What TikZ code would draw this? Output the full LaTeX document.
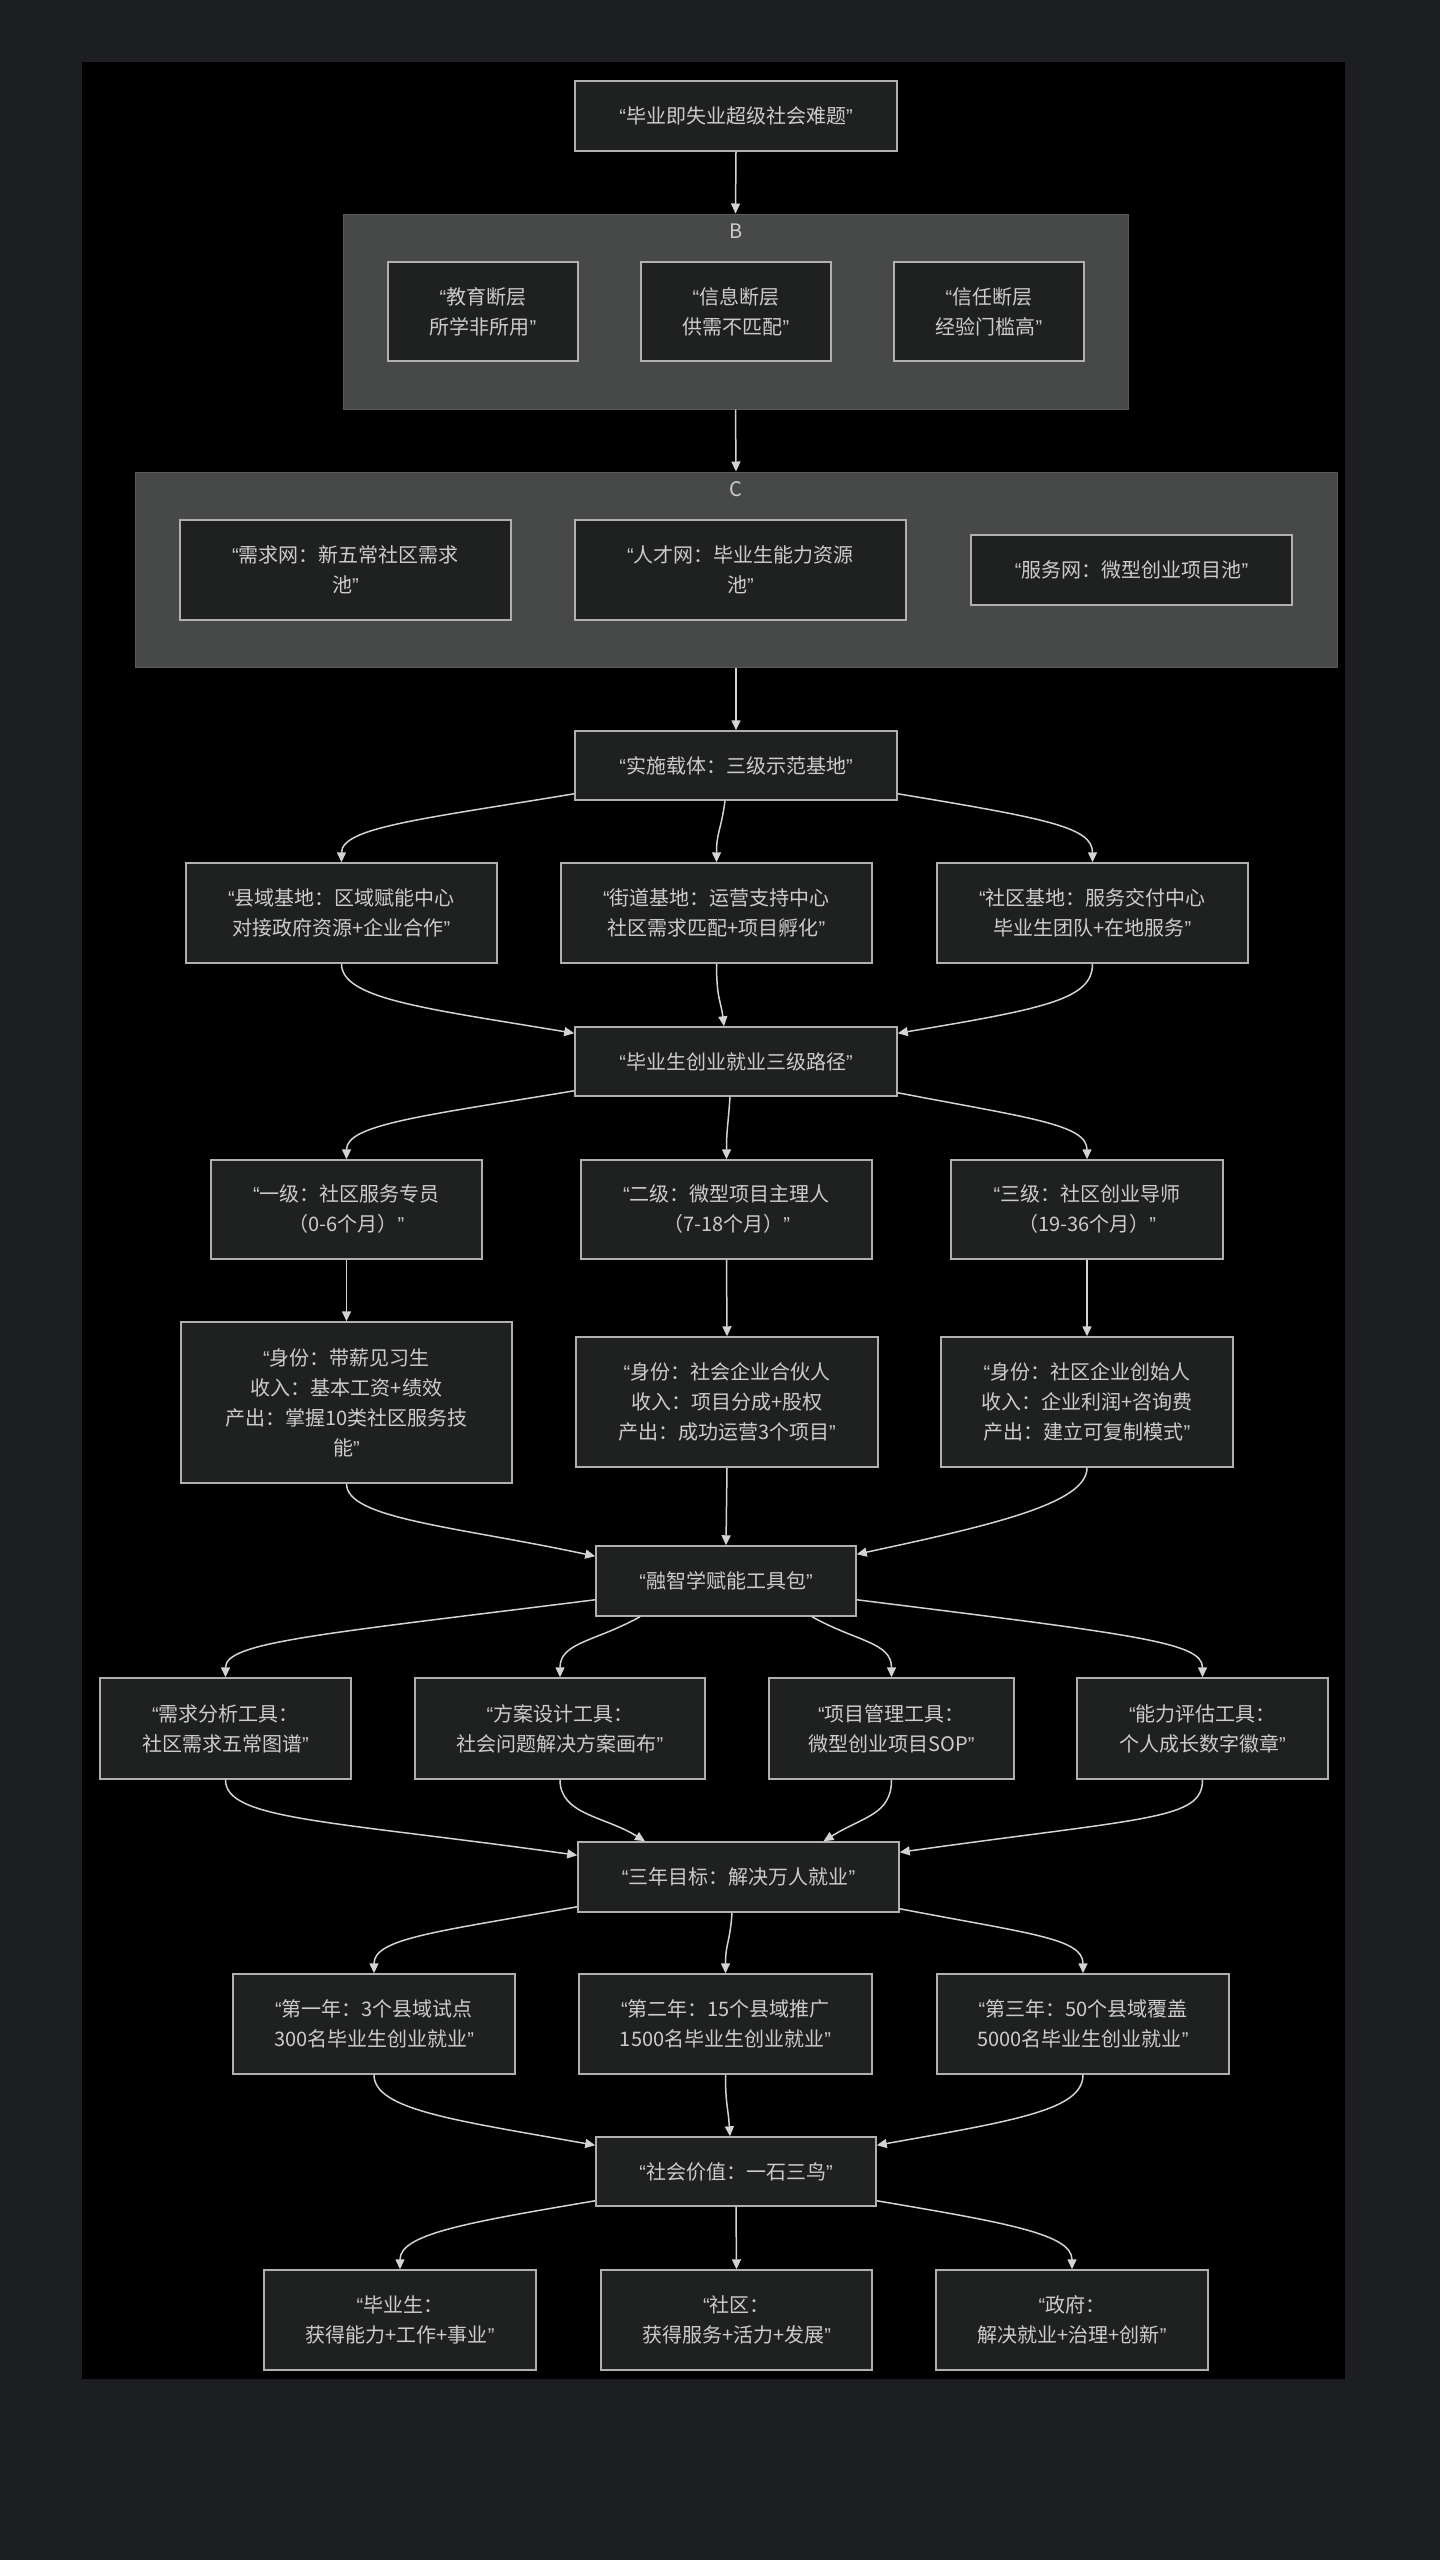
\documentclass[tikz,border=0pt]{standalone}
\usepackage{fontspec}
\setmainfont{Noto Sans CJK SC}
\newfontfamily\qfont{Liberation Sans}
\newcommand{\myoq}{{\qfont “}}
\newcommand{\mycq}{{\qfont ”}}
\usetikzlibrary{arrows.meta}
\definecolor{bgouter}{HTML}{1D1E21}
\definecolor{nodefill}{HTML}{1F2020}
\definecolor{nodeborder}{HTML}{B0B0B0}
\definecolor{txt}{HTML}{CCCCCC}
\definecolor{linec}{HTML}{D3D3D3}
\definecolor{clusterfill}{HTML}{474949}
\definecolor{clusterborder}{HTML}{5A5A5A}
\tikzset{
  box/.style={draw=nodeborder, fill=nodefill, line width=1.5pt, text=txt, align=center, inner sep=0pt, font=\fontsize{20}{30}\selectfont},
  edge/.style={draw=linec, line width=1.5pt, -{Triangle[length=10pt,width=9pt]}},
  clusterbox/.style={fill=clusterfill, draw=clusterborder, line width=1pt, inner sep=0pt},
  clusterlabel/.style={text=txt, font=\fontsize{20}{24}\selectfont, inner sep=0pt}
}
\begin{document}
\begin{tikzpicture}[x=1pt,y=-1pt]
\fill[bgouter] (0,0) rectangle (1440,2560);
\useasboundingbox (0,0) rectangle (1440,2560);
\fill[black] (82,62) rectangle (1345,2379);

% top
\node[box, minimum width=322pt, minimum height=70pt] (a) at (736,116) {\myoq 毕业即失业超级社会难题\mycq};

% cluster B
\node[clusterbox, minimum width=785pt, minimum height=195pt] (cb) at (735.5,311.5) {};
\node[clusterlabel] (cbl) at (736,231) {B};
\node[box, minimum width=190pt, minimum height=99pt] (b1) at (483,311.5) {\myoq 教育断层\\所学非所用\mycq};
\node[box, minimum width=190pt, minimum height=99pt] (b2) at (736,311.5) {\myoq 信息断层\\供需不匹配\mycq};
\node[box, minimum width=190pt, minimum height=99pt] (b3) at (989,311.5) {\myoq 信任断层\\经验门槛高\mycq};

% cluster C
\node[clusterbox, minimum width=1202pt, minimum height=195pt] (cc) at (736,569.5) {};
\node[clusterlabel] (ccl) at (736,489) {C};
\node[box, minimum width=331pt, minimum height=100pt] (c1) at (345.5,570) {\myoq 需求网：新五常社区需求\\池\mycq};
\node[box, minimum width=331pt, minimum height=100pt] (c2) at (740.5,570) {\myoq 人才网：毕业生能力资源\\池\mycq};
\node[box, minimum width=321pt, minimum height=70pt] (c3) at (1131.5,570) {\myoq 服务网：微型创业项目池\mycq};

% carrier
\node[box, minimum width=322pt, minimum height=69pt] (d) at (736,765.5) {\myoq 实施载体：三级示范基地\mycq};
\node[box, minimum width=311pt, minimum height=100pt] (e1) at (341.5,913) {\myoq 县域基地：区域赋能中心\\对接政府资源+企业合作\mycq};
\node[box, minimum width=311pt, minimum height=100pt] (e2) at (716.5,913) {\myoq 街道基地：运营支持中心\\社区需求匹配+项目孵化\mycq};
\node[box, minimum width=311pt, minimum height=100pt] (e3) at (1092.5,913) {\myoq 社区基地：服务交付中心\\毕业生团队+在地服务\mycq};

% path
\node[box, minimum width=322pt, minimum height=69pt] (f) at (736,1061.5) {\myoq 毕业生创业就业三级路径\mycq};
\node[box, minimum width=271pt, minimum height=99pt] (g1) at (346.5,1209.5) {\myoq 一级：社区服务专员\\（0-6个月）\mycq};
\node[box, minimum width=291pt, minimum height=99pt] (g2) at (726.5,1209.5) {\myoq 二级：微型项目主理人\\（7-18个月）\mycq};
\node[box, minimum width=272pt, minimum height=99pt] (g3) at (1087,1209.5) {\myoq 三级：社区创业导师\\（19-36个月）\mycq};
\node[box, minimum width=331pt, minimum height=161pt] (h1) at (346.5,1402.5) {\myoq 身份：带薪见习生\\收入：基本工资+绩效\\产出：掌握10类社区服务技\\能\mycq};
\node[box, minimum width=302pt, minimum height=130pt] (h2) at (727,1402) {\myoq 身份：社会企业合伙人\\收入：项目分成+股权\\产出：成功运营3个项目\mycq};
\node[box, minimum width=292pt, minimum height=130pt] (h3) at (1087,1402) {\myoq 身份：社区企业创始人\\收入：企业利润+咨询费\\产出：建立可复制模式\mycq};

% toolkit
\node[box, minimum width=260pt, minimum height=70pt] (i) at (726,1581) {\myoq 融智学赋能工具包\mycq};
\node[box, minimum width=251pt, minimum height=101pt] (j1) at (225.5,1728.5) {\myoq 需求分析工具：\\社区需求五常图谱\mycq};
\node[box, minimum width=290pt, minimum height=101pt] (j2) at (560,1728.5) {\myoq 方案设计工具：\\社会问题解决方案画布\mycq};
\node[box, minimum width=245pt, minimum height=101pt] (j3) at (891.5,1728.5) {\myoq 项目管理工具：\\微型创业项目SOP\mycq};
\node[box, minimum width=251pt, minimum height=101pt] (j4) at (1202.5,1728.5) {\myoq 能力评估工具：\\个人成长数字徽章\mycq};

% goals
\node[box, minimum width=321pt, minimum height=70pt] (k) at (738.5,1877) {\myoq 三年目标：解决万人就业\mycq};
\node[box, minimum width=282pt, minimum height=100pt] (l1) at (374,2024) {\myoq 第一年：3个县域试点\\300名毕业生创业就业\mycq};
\node[box, minimum width=293pt, minimum height=100pt] (l2) at (725.5,2024) {\myoq 第二年：15个县域推广\\1500名毕业生创业就业\mycq};
\node[box, minimum width=292pt, minimum height=100pt] (l3) at (1083,2024) {\myoq 第三年：50个县域覆盖\\5000名毕业生创业就业\mycq};

% value
\node[box, minimum width=280pt, minimum height=69pt] (m) at (736,2171.5) {\myoq 社会价值：一石三鸟\mycq};
\node[box, minimum width=272pt, minimum height=100pt] (n1) at (400,2320) {\myoq 毕业生：\\获得能力+工作+事业\mycq};
\node[box, minimum width=271pt, minimum height=100pt] (n2) at (736.5,2320) {\myoq 社区：\\获得服务+活力+发展\mycq};
\node[box, minimum width=272pt, minimum height=100pt] (n3) at (1072,2320) {\myoq 政府：\\解决就业+治理+创新\mycq};

% edges
\draw[edge] (a.south) -- (cb.north);
\draw[edge] (cb.south) -- (cc.north);
\draw[edge] (cc.south) -- (d.north);

\draw[edge] ([yshift=7pt]d.south west) .. controls +(-150,25) and +(0,-35) .. (e1.north);
\draw[edge] ([xshift=-11pt]d.south) .. controls +(-4,30) and +(0,-30) .. (e2.north);
\draw[edge] ([yshift=7pt]d.south east) .. controls +(150,25) and +(0,-35) .. (e3.north);

\draw[edge] (e1.south) .. controls +(0,35) and +(-150,-25) .. ([yshift=-7pt]f.north west);
\draw[edge] (e2.south) .. controls +(0,35) and +(-3,-25) .. ([xshift=-12pt]f.north);
\draw[edge] (e3.south) .. controls +(0,35) and +(150,-25) .. ([yshift=-7pt]f.north east);

\draw[edge] ([yshift=6pt]f.south west) .. controls +(-150,25) and +(0,-35) .. (g1.north);
\draw[edge] ([xshift=-6pt]f.south) .. controls +(-2,30) and +(0,-30) .. (g2.north);
\draw[edge] ([yshift=4pt]f.south east) .. controls +(130,25) and +(0,-35) .. (g3.north);

\draw[edge] (g1.south) -- (h1.north);
\draw[edge] (g2.south) -- (h2.north);
\draw[edge] (g3.south) -- (h3.north);

\draw[edge] (h1.south) .. controls +(0,35) and +(-140,-30) .. ([yshift=-11pt]i.north west);
\draw[edge] (h2.south) -- (i.north);
\draw[edge] (h3.south) .. controls +(0,35) and +(140,-30) .. ([yshift=-9pt]i.north east);

\draw[edge] ([yshift=17pt]i.south west) .. controls +(-280,35) and +(0,-35) .. (j1.north);
\draw[edge] ([xshift=-86pt]i.south) .. controls +(-45,25) and +(0,-35) .. (j2.north);
\draw[edge] ([xshift=86pt]i.south) .. controls +(45,25) and +(0,-35) .. (j3.north);
\draw[edge] ([yshift=17pt]i.south east) .. controls +(280,35) and +(0,-35) .. (j4.north);

\draw[edge] (j1.south) .. controls +(0,40) and +(-250,-35) .. ([yshift=-14pt]k.north west);
\draw[edge] (j2.south) .. controls +(0,35) and +(-40,-25) .. ([xshift=-93.5pt]k.north);
\draw[edge] (j3.south) .. controls +(0,35) and +(40,-25) .. ([xshift=85pt]k.north);
\draw[edge] (j4.south) .. controls +(0,40) and +(250,-35) .. ([yshift=-11pt]k.north east);

\draw[edge] ([yshift=6pt]k.south west) .. controls +(-140,25) and +(0,-35) .. (l1.north);
\draw[edge] ([xshift=-6.5pt]k.south) .. controls +(-2,30) and +(0,-30) .. (l2.north);
\draw[edge] ([yshift=4pt]k.south east) .. controls +(130,25) and +(0,-35) .. (l3.north);

\draw[edge] (l1.south) .. controls +(0,35) and +(-140,-25) .. ([yshift=-9pt]m.north west);
\draw[edge] (l2.south) .. controls +(0,30) and +(-2,-30) .. ([xshift=-6pt]m.north);
\draw[edge] (l3.south) .. controls +(0,35) and +(140,-25) .. ([yshift=-9pt]m.north east);

\draw[edge] ([yshift=6pt]m.south west) .. controls +(-130,22) and +(0,-35) .. (n1.north);
\draw[edge] (m.south) -- (n2.north);
\draw[edge] ([yshift=6pt]m.south east) .. controls +(130,22) and +(0,-35) .. (n3.north);
\end{tikzpicture}
\end{document}
